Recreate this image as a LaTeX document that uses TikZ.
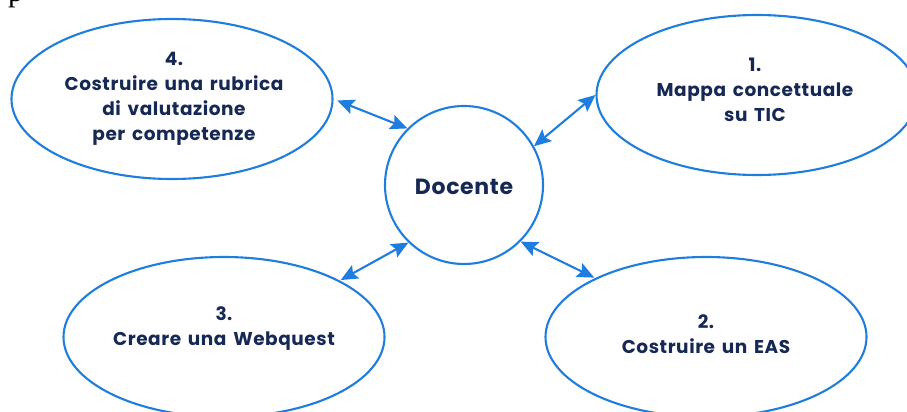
\documentclass[tikz,border=0pt]{standalone}
\usepackage{fontspec}
\setmainfont{Poppins}[LetterSpace=3,WordSpace=1.5]
\newfontfamily\serifp{Liberation Serif}
\usetikzlibrary{shapes.geometric,arrows.meta}
\definecolor{mapblue}{RGB}{30,125,222}
\definecolor{mapink}{RGB}{22,40,84}
\tikzset{
  bubble/.style={ellipse,draw=mapblue,line width=2.1pt,minimum width=321pt,minimum height=160pt,inner sep=0pt},
  hub/.style={circle,draw=mapblue,line width=2.1pt,minimum size=158pt,inner sep=0pt},
  label text/.style={text=mapink,font=\bfseries\fontsize{18.5}{25}\selectfont,align=center,inner sep=0pt},
  link/.style={draw=mapblue,line width=2.1pt,{Stealth[length=17pt,width=15pt,inset=3pt]}-{Stealth[length=17pt,width=15pt,inset=3pt]}}
}
\begin{document}
\begin{tikzpicture}[x=1pt,y=-1pt]
  \useasboundingbox (0,0) rectangle (907,412);
  \clip (0,0) rectangle (907,412);
  % stray letter at the top left corner
  \node[font=\serifp\fontsize{30}{30}\selectfont,anchor=base west,inner sep=0pt] (pchar) at (8,2) {p};
  % central node and the four activities
  \node[hub] (doc) at (464,185) {};
  \node[label text,font=\bfseries\fontsize{22}{25}\selectfont] (doctxt) at (464,187) {Docente};
  \node[bubble] (e4) at (172,99) {};
  \node[label text] (t4) at (174,99) {4.\\Costruire una rubrica\\di valutazione\\per competenze};
  \node[bubble] (e1) at (757,95) {};
  \node[label text] (t1) at (755,90) {1.\\Mappa concettuale\\su TIC};
  \node[bubble] (e3) at (224,337) {};
  \node[label text] (t3) at (224,329) {3.\\Creare una Webquest};
  \node[bubble] (e2) at (706,337) {};
  \node[label text] (t2) at (706,334) {2.\\Costruire un EAS};
  % two-way links
  \draw[link,shorten <=4pt] (e4.east) -- (doc.135);
  \draw[link] (e1.west) -- (doc.29);
  \draw[link,shorten <=1pt] (e3.26) -- (doc.226);
  \draw[link,shorten <=1pt] (e2.152) -- (doc.315);
\end{tikzpicture}
\end{document}
